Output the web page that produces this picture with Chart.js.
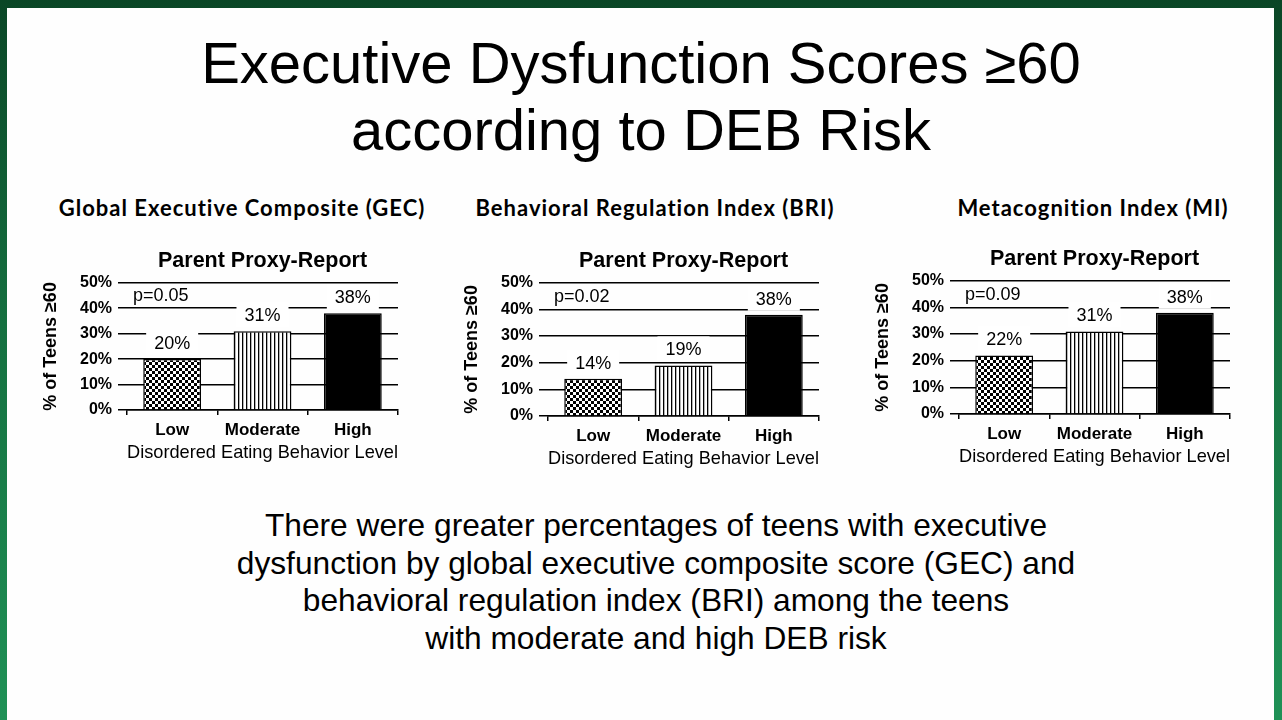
<!DOCTYPE html>
<html>
<head>
<meta charset="utf-8">
<script src="https://cdn.jsdelivr.net/npm/chart.js@4.4.1/dist/chart.umd.min.js"></script>
<style>
  html, body { margin: 0; padding: 0; }
  body {
    width: 1282px; height: 720px; position: relative; overflow: hidden;
    background: linear-gradient(to bottom, #0a4626 0%, #157040 45%, #1f9156 100%);
    font-family: "Liberation Sans", Arial, sans-serif; color: #000;
  }
  #slide { position: absolute; left: 7px; top: 8px; width: 1267px; height: 712px; background: #fefefe; }
  #title {
    position: absolute; left: 0; width: 1282px; top: 29px;
    text-align: center; font-size: 58px; line-height: 67px;
  }
  .heading {
    position: absolute; width: 500px; text-align: center; top: 195px;
    font-family: Lato, "Open Sans", sans-serif; font-weight: 700; font-size: 22px; line-height: 26px;
    letter-spacing: 1px;
  }
  #summary {
    position: absolute; left: 0; width: 1312px; top: 507px;
    text-align: center; font-size: 31.7px; line-height: 37.7px;
  }
  canvas { position: absolute; }
</style>
</head>
<body>
<div id="slide"></div>
<div id="title">Executive Dysfunction Scores ≥60<br>according to DEB Risk</div>
<div class="heading" style="left:-8px">Global Executive Composite (GEC)</div>
<div class="heading" style="left:405px">Behavioral Regulation Index (BRI)</div>
<div class="heading" style="left:843px">Metacognition Index (MI)</div>
<canvas id="gec" width="370" height="225" style="left:38px;top:245px;width:370px;height:225px"></canvas>
<canvas id="bri" width="370" height="231" style="left:459px;top:245px;width:370px;height:231px"></canvas>
<canvas id="mi" width="370" height="231" style="left:870px;top:243px;width:370px;height:231px"></canvas>
<div id="summary">There were greater percentages of teens with executive<br>dysfunction by global executive composite score (GEC) and<br>behavioral regulation index (BRI) among the teens<br>with moderate and high DEB risk</div>

<script>
// data
const categories = ["Low", "Moderate", "High"];
const gecValues = [20, 31, 38];
const briValues = [14, 19, 38];
const miValues = [22, 31, 38];
const pLabels = ["p=0.05", "p=0.02", "p=0.09"];
const yMax = 50;
const yStep = 10;

const FONT = "'Liberation Sans', Arial, sans-serif";

// fill patterns like the old excel chart
function makePattern(size, draw) {
  const c = document.createElement("canvas");
  c.width = size; c.height = size;
  const g = c.getContext("2d");
  g.fillStyle = "#fff";
  g.fillRect(0, 0, size, size);
  g.fillStyle = "#000";
  draw(g);
  return c.getContext("2d").createPattern(c, "repeat");
}
const checker = makePattern(6, g => { g.fillRect(0, 0, 3, 3); g.fillRect(3, 3, 3, 3); });
const stripes = makePattern(4, g => { g.fillRect(0, 0, 1.3, 4); });

// white boxed value labels + p value text
const barLabels = {
  id: "barLabels",
  afterDatasetsDraw(chart, args, opts) {
    const ctx = chart.ctx;
    const meta = chart.getDatasetMeta(0);
    const vals = chart.data.datasets[0].data;
    ctx.save();
    ctx.font = "18px " + FONT;
    ctx.textAlign = "center";
    ctx.textBaseline = "middle";
    meta.data.forEach((bar, i) => {
      const txt = vals[i] + "%";
      const w = ctx.measureText(txt).width + 16;
      const cy = bar.y - 16;
      ctx.fillStyle = "#fff";
      ctx.fillRect(bar.x - w / 2, cy - 13, w, 25);
      ctx.fillStyle = "#000";
      ctx.fillText(txt, bar.x, cy + 1);
    });
    ctx.textAlign = "left";
    ctx.fillText(opts.text, chart.chartArea.left + 6, chart.scales.y.getPixelForValue(45) + 1);
    ctx.restore();
  }
};

function makeChart(id, values, pText) {
  return new Chart(document.getElementById(id), {
    type: "bar",
    data: {
      labels: categories,
      datasets: [{
        data: values,
        backgroundColor: [checker, stripes, "#000"],
        borderColor: "#000",
        borderWidth: 1.5,
        barPercentage: 0.64,
        categoryPercentage: 1
      }]
    },
    options: {
      responsive: false,
      animation: false,
      layout: { padding: { left: 0, right: 10, top: 0, bottom: 0 } },
      plugins: {
        legend: { display: false },
        tooltip: { enabled: false },
        title: {
          display: true,
          text: "Parent Proxy-Report",
          fullSize: false,
          color: "#000",
          font: { family: FONT, size: 21.5, weight: "bold" },
          padding: { top: 3, bottom: 9 }
        },
        barLabels: { text: pText }
      },
      scales: {
        x: {
          grid: { display: true, drawOnChartArea: false, drawTicks: true, tickLength: 5, color: "#000", lineWidth: 1.5, offset: true },
          border: { display: true, color: "#000", width: 1.5 },
          ticks: { color: "#000", font: { family: FONT, size: 17, weight: "bold" }, padding: 5 },
          title: {
            display: true,
            text: "Disordered Eating Behavior Level",
            color: "#000",
            font: { family: FONT, size: 18.5 },
            padding: { top: 0, bottom: 6 }
          },
          afterFit: s => { s.height = 60; }
        },
        y: {
          min: 0,
          max: yMax,
          ticks: {
            stepSize: yStep,
            color: "#000",
            padding: 6,
            font: { family: FONT, size: 16, weight: "bold" },
            callback: v => v + "%"
          },
          grid: { color: "#000", lineWidth: 1.5, tickLength: 9 },
          border: { display: false },
          title: {
            display: true,
            text: "% of Teens ≥60",
            color: "#000",
            font: { family: FONT, size: 18, weight: "bold" },
            padding: { top: 2, bottom: 0 }
          },
          afterFit: s => { s.width = 89; }
        }
      }
    },
    plugins: [barLabels]
  });
}

makeChart("gec", gecValues, pLabels[0]);
makeChart("bri", briValues, pLabels[1]);
makeChart("mi", miValues, pLabels[2]);
</script>
</body>
</html>
